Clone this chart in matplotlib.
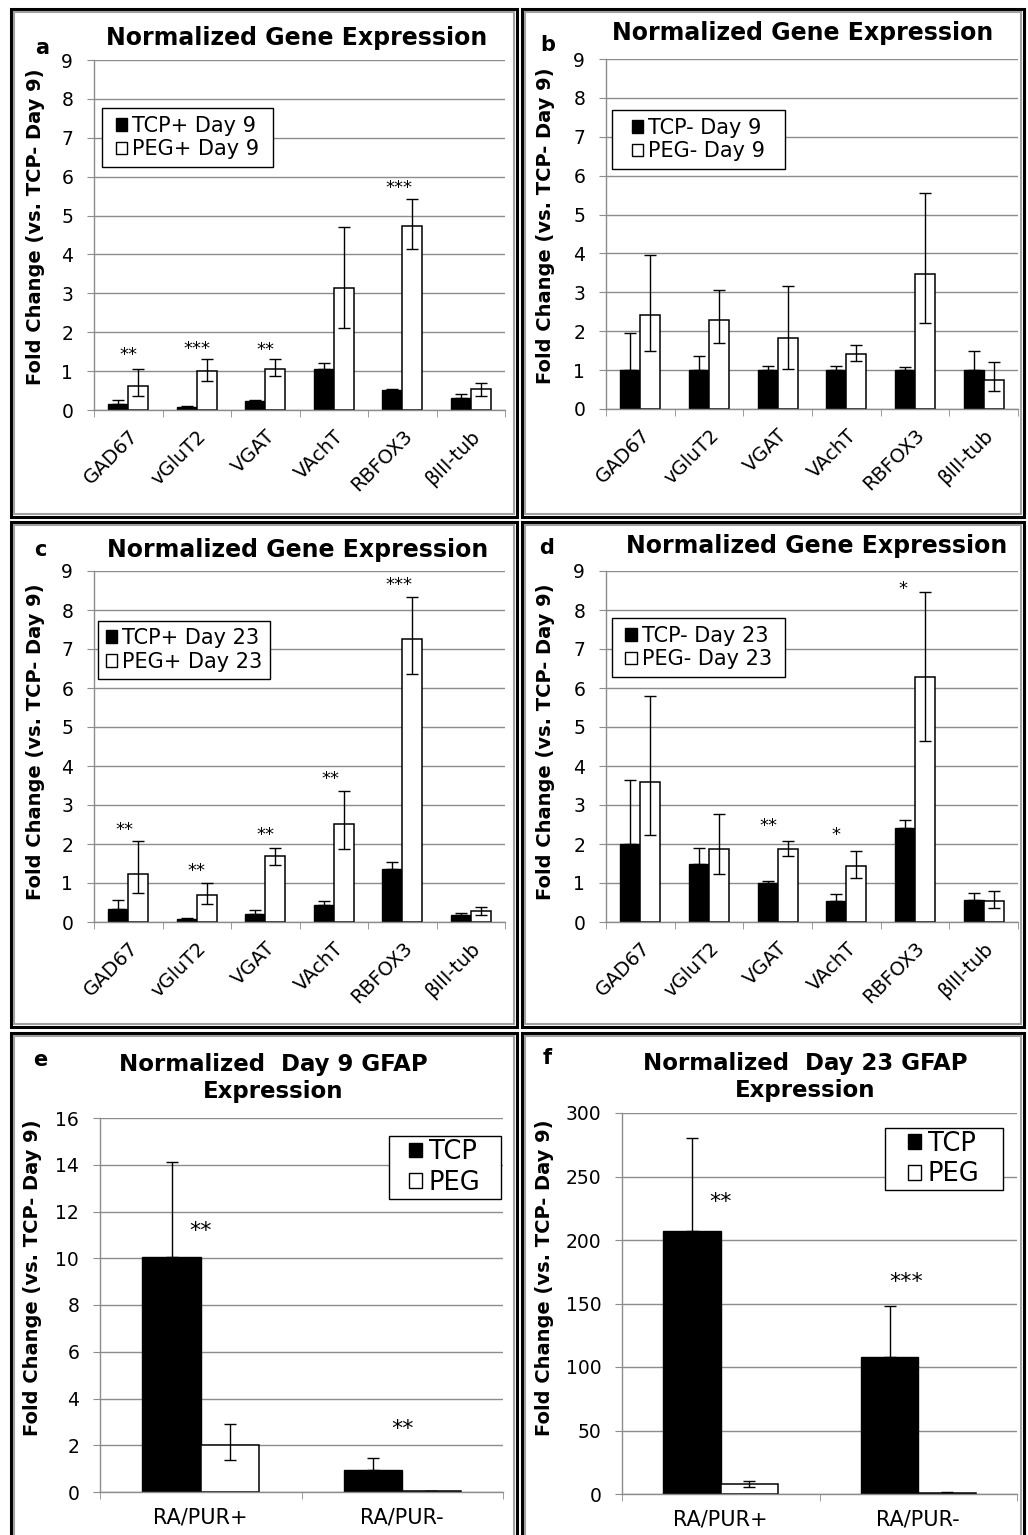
import matplotlib
matplotlib.use("Agg")
import matplotlib.pyplot as plt
import matplotlib.patches as mpat
import numpy as np

W, H = 1028, 1535

genes = ["GAD67", "vGluT2", "VGAT", "VAchT", "RBFOX3", "βIII-tub"]
groups = ["RA/PUR+", "RA/PUR-"]

# a: day 9, RA/PUR+
a_tcp = [0.15, 0.08, 0.24, 1.05, 0.51, 0.32]
a_tcp_hi = [0.26, 0.10, 0.25, 1.22, 0.53, 0.40]
a_peg = [0.63, 1.00, 1.05, 3.13, 4.74, 0.53]
a_peg_lo = [0.36, 0.75, 0.88, 2.10, 4.14, 0.36]
a_peg_hi = [1.05, 1.31, 1.31, 4.71, 5.42, 0.69]
a_star_txt = ["**", "***", "**", "***"]
a_star_x = [0, 1, 2, 3.95]
a_star_y = [1.41, 1.57, 1.54, 5.70]

# b: day 9, RA/PUR-
b_tcp = [1.0, 1.0, 1.0, 1.0, 1.0, 1.0]
b_tcp_hi = [1.95, 1.37, 1.10, 1.10, 1.07, 1.48]
b_peg = [2.41, 2.28, 1.83, 1.41, 3.48, 0.75]
b_peg_lo = [1.48, 1.70, 1.04, 1.23, 2.21, 0.47]
b_peg_hi = [3.95, 3.07, 3.17, 1.64, 5.55, 1.20]

# c: day 23, RA/PUR+
c_tcp = [0.34, 0.085, 0.21, 0.43, 1.37, 0.17]
c_tcp_hi = [0.56, 0.10, 0.30, 0.53, 1.55, 0.23]
c_peg = [1.24, 0.68, 1.68, 2.52, 7.25, 0.27]
c_peg_lo = [0.74, 0.47, 1.47, 1.88, 6.35, 0.19]
c_peg_hi = [2.07, 1.00, 1.91, 3.37, 8.33, 0.38]
c_star_txt = ["**", "**", "**", "**", "***"]
c_star_x = [-0.05, 1, 2, 2.95, 3.95]
c_star_y = [2.37, 1.30, 2.22, 3.66, 8.64]

# d: day 23, RA/PUR-
d_tcp = [2.00, 1.49, 1.00, 0.53, 2.41, 0.56]
d_tcp_hi = [3.63, 1.90, 1.04, 0.72, 2.62, 0.74]
d_peg = [3.60, 1.88, 1.88, 1.44, 6.27, 0.53]
d_peg_lo = [2.22, 1.24, 1.68, 1.13, 4.63, 0.36]
d_peg_hi = [5.80, 2.78, 2.07, 1.81, 8.45, 0.79]
d_star_txt = ["**", "*", "*"]
d_star_x = [1.86, 2.85, 3.82]
d_star_y = [2.45, 2.22, 8.54]

# e: GFAP day 9
e_tcp = [10.06, 0.96]
e_tcp_hi = [14.12, 1.45]
e_peg = [2.00, 0.03]
e_peg_lo = [1.38, 0.03]
e_peg_hi = [2.92, 0.03]
e_star_txt = ["**", "**"]
e_star_x = [0, 1]
e_star_y = [11.15, 2.70]

# f: GFAP day 23
f_tcp = [206.9, 108.0]
f_tcp_hi = [280.5, 147.9]
f_peg = [7.9, 0.5]
f_peg_lo = [5.8, 0.5]
f_peg_hi = [10.5, 1.2]
f_star_txt = ["**", "***"]
f_star_x = [0, 0.94]
f_star_y = [230, 167]

plt.rcParams['font.family'] = ['DejaVu Sans']
GRAY = '#8c8c8c'
BW = 0.29

fig = plt.figure(figsize=(W / 100, H / 100), dpi=100)


def fpos(x, y):
    return x / W, 1 - y / H


def box(l, t, r, b):
    return [l / W, 1 - b / H, (r - l) / W, (b - t) / H]


def frame(l, t, r, b):
    x0, y1 = fpos(l, t)
    x1, y0 = fpos(r, b)
    fig.add_artist(mpat.Rectangle((x0, y0), x1 - x0, y1 - y0, fill=False,
                                  ec='black', lw=2.2, transform=fig.transFigure))
    x0, y1 = fpos(l + 3, t + 3)
    x1, y0 = fpos(r - 3, b - 3)
    fig.add_artist(mpat.Rectangle((x0, y0), x1 - x0, y1 - y0, fill=False,
                                  ec='#a0a0a0', lw=1.5, transform=fig.transFigure))


def panel(rect, cats, tcp, tcp_hi, peg, peg_lo, peg_hi, ymax, ystep,
          names, leg_box, stars=None, star_fs=13, leg_fs=15, rotate=True):
    ax = fig.add_axes(rect)
    x = np.arange(len(cats))
    tcp = np.array(tcp)
    peg = np.array(peg)
    ax.bar(x - BW / 2, tcp, BW, color='black', edgecolor='black', lw=1)
    ax.bar(x + BW / 2, peg, BW, color='white', edgecolor='black', lw=1.1)
    ax.errorbar(x - BW / 2, tcp, yerr=[np.zeros(len(x)), np.array(tcp_hi) - tcp],
                fmt='none', ecolor='black', elinewidth=1, capsize=4.5, capthick=1)
    ax.errorbar(x + BW / 2, peg, yerr=[peg - np.array(peg_lo), np.array(peg_hi) - peg],
                fmt='none', ecolor='black', elinewidth=1, capsize=4.5, capthick=1)
    if stars:
        for t, sx, sy in zip(*stars):
            ax.text(sx, sy, t, ha='center', va='center', fontsize=star_fs)
    ax.set_xlim(-0.5, len(cats) - 0.5)
    ax.set_ylim(0, ymax)
    ax.set_yticks(np.arange(0, ymax + ystep / 2, ystep))
    ax.yaxis.grid(True, color=GRAY, lw=1)
    ax.set_axisbelow(True)
    for s in ['top', 'right']:
        ax.spines[s].set_visible(False)
    for s in ['left', 'bottom']:
        ax.spines[s].set_color(GRAY)
        ax.spines[s].set_linewidth(1)
    ax.tick_params(axis='y', length=5, color=GRAY, labelsize=13.5, pad=10)
    ax.set_xticks(x)
    ax.set_xticks(np.arange(len(cats) + 1) - 0.5, minor=True)
    ax.tick_params(axis='x', which='major', length=0)
    ax.tick_params(axis='x', which='minor', length=5, color=GRAY)
    if rotate:
        ax.set_xticklabels(cats, rotation=45, ha='right', rotation_mode='anchor', fontsize=14)
        ax.tick_params(axis='x', which='major', pad=12)
    else:
        ax.set_xticklabels(cats, fontsize=15)
        ax.tick_params(axis='x', which='major', pad=11)
    ax.set_ylabel("Fold Change (vs. TCP- Day 9)", fontsize=14, fontweight='bold')

    # legend frame drawn by hand so padding matches
    l, t, r, b = leg_box
    x0, y1 = fpos(l, t)
    x1, y0 = fpos(r, b)
    ax.add_patch(mpat.Rectangle((x0, y0), x1 - x0, y1 - y0, fc='white', ec='black',
                                lw=1, transform=fig.transFigure, clip_on=False, zorder=4.5))
    h = [mpat.Patch(fc='black', ec='black', label=names[0]),
         mpat.Patch(fc='white', ec='black', label=names[1])]
    hs = 0.55 if leg_fs < 17 else 0.5
    ax.legend(handles=h, loc='center', bbox_to_anchor=fpos((l + r) / 2, (t + b) / 2),
              bbox_transform=fig.transFigure, borderaxespad=0, frameon=False,
              fontsize=leg_fs, handlelength=hs, handleheight=hs,
              handletextpad=0.25, labelspacing=0.18, borderpad=0)
    return ax


# panel frames
frame(11, 9, 517, 517)
frame(522, 9, 1024, 517)
frame(11, 522, 517, 1027)
frame(522, 522, 1024, 1027)
frame(11, 1033, 517, 1560)
frame(522, 1033, 1024, 1560)

TITLE = "Normalized Gene Expression"

ax = panel(box(94, 60, 505, 410), genes, a_tcp, a_tcp_hi, a_peg, a_peg_lo, a_peg_hi, 9, 1,
           ["TCP+ Day 9", "PEG+ Day 9"], (102, 108, 273, 167),
           stars=(a_star_txt, a_star_x, a_star_y))
ax.yaxis.set_label_coords(-0.119, 0.523)
fig.text(*fpos(297, 38), TITLE, ha='center', va='center', fontsize=17, fontweight='bold')
fig.text(*fpos(42, 48), "a", ha='center', va='center', fontsize=15, fontweight='bold')

ax = panel(box(606, 59, 1018, 409), genes, b_tcp, b_tcp_hi, b_peg, b_peg_lo, b_peg_hi, 9, 1,
           ["TCP- Day 9", "PEG- Day 9"], (612, 110, 785, 169))
ax.yaxis.set_label_coords(-0.124, 0.523)
fig.text(*fpos(803, 33), TITLE, ha='center', va='center', fontsize=17, fontweight='bold')
fig.text(*fpos(548, 45), "b", ha='center', va='center', fontsize=15, fontweight='bold')

ax = panel(box(94, 571, 505, 922), genes, c_tcp, c_tcp_hi, c_peg, c_peg_lo, c_peg_hi, 9, 1,
           ["TCP+ Day 23", "PEG+ Day 23"], (98, 621, 270, 679),
           stars=(c_star_txt, c_star_x, c_star_y))
ax.yaxis.set_label_coords(-0.119, 0.513)
fig.text(*fpos(298, 550), TITLE, ha='center', va='center', fontsize=17, fontweight='bold')
fig.text(*fpos(40, 550), "c", ha='center', va='center', fontsize=15, fontweight='bold')

ax = panel(box(606, 571, 1018, 922), genes, d_tcp, d_tcp_hi, d_peg, d_peg_lo, d_peg_hi, 9, 1,
           ["TCP- Day 23", "PEG- Day 23"], (612, 618, 785, 677),
           stars=(d_star_txt, d_star_x, d_star_y))
ax.yaxis.set_label_coords(-0.124, 0.513)
fig.text(*fpos(817, 546), TITLE, ha='center', va='center', fontsize=17, fontweight='bold')
fig.text(*fpos(547, 548), "d", ha='center', va='center', fontsize=15, fontweight='bold')

ax = panel(box(100, 1118, 503, 1492), groups, e_tcp, e_tcp_hi, e_peg, e_peg_lo, e_peg_hi, 16, 2,
           ["TCP", "PEG"], (389, 1136, 501, 1199),
           stars=(e_star_txt, e_star_x, e_star_y), star_fs=16, leg_fs=18.5, rotate=False)
ax.yaxis.set_label_coords(-0.144, 0.572)
fig.text(*fpos(273, 1078), "Normalized  Day 9 GFAP\nExpression", ha='center', va='center',
         fontsize=16.5, fontweight='bold', linespacing=1.2)
fig.text(*fpos(40, 1060), "e", ha='center', va='center', fontsize=15, fontweight='bold')

ax = panel(box(622, 1113, 1017, 1494), groups, f_tcp, f_tcp_hi, f_peg, f_peg_lo, f_peg_hi, 300, 50,
           ["TCP", "PEG"], (885, 1128, 1003, 1190),
           stars=(f_star_txt, f_star_x, f_star_y), star_fs=16, leg_fs=18.5, rotate=False)
ax.yaxis.set_label_coords(-0.172, 0.567)
fig.text(*fpos(805, 1077), "Normalized  Day 23 GFAP\nExpression", ha='center', va='center',
         fontsize=16.5, fontweight='bold', linespacing=1.2)
fig.text(*fpos(547, 1058), "f", ha='center', va='center', fontsize=15, fontweight='bold')

fig.savefig("out.png", dpi=100)
